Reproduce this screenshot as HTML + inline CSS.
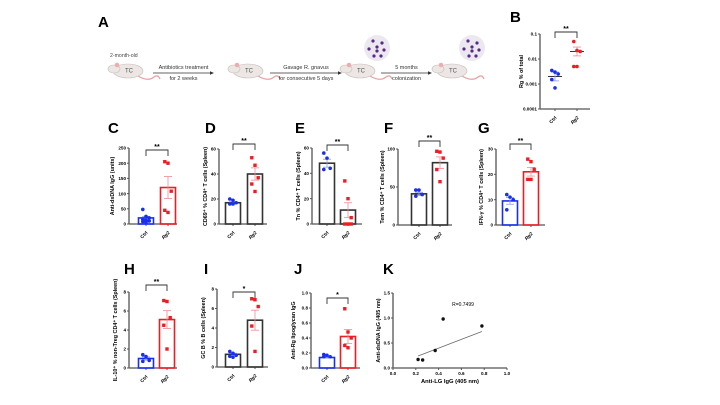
<!DOCTYPE html>
<html><head><meta charset="utf-8"><style>
body{margin:0;background:#fff}
svg{display:block;font-family:"Liberation Sans",Arial,sans-serif}
</style></head><body>
<svg id="fig" width="720" height="405" viewBox="0 0 720 405">
<g id="schematic"></g>
<g id="panels"></g>
</svg>
<script>
// ---- data ----
const groups = ["Ctrl","Rg2"];
const bCtrl = [0.0035,0.003,0.0025,0.0015,0.0007];
const bRg2 = [0.05,0.022,0.02,0.005,0.005];
const bMeans = [0.002,0.02];
const cCtrl = [48,25,20,15,12,10,8,5];
const cRg2 = [205,200,108,45,38];
const cMeans = [20,120];
const dCtrl = [20,19,17,16,16];
const dRg2 = [53,47,37,32,26];
const dMeans = [17,40];
const eCtrl = [56,52,44,43];
const eRg2 = [34,20,5,0,0,0];
const eMeans = [48,11];
const fCtrl = [46,46,40,38];
const fRg2 = [97,96,88,73,57];
const fMeans = [41,82];
const gCtrl = [12,11,10,6];
const gRg2 = [26,25,22,18,18];
const gMeans = [9.5,21];
const hCtrl = [1.4,1.2,0.8,0.7];
const hRg2 = [7.1,7.0,5.3,4.5,2.0];
const hMeans = [1.0,5.1];
const iCtrl = [1.6,1.4,1.2,1.1,1.0];
const iRg2 = [7.0,6.9,6.2,4.2,1.6];
const iMeans = [1.3,4.8];
const jCtrl = [0.18,0.17,0.15,0.15];
const jRg2 = [0.79,0.48,0.4,0.3,0.27];
const jMeans = [0.14,0.42];
const kX = [0.22,0.26,0.37,0.44,0.78];
const kY = [0.17,0.16,0.35,0.98,0.84];
const kFitX = [0.22,0.78];
const kFitY = [0.24,0.73];
const cTicks = [0,50,100,150,200,250];
const dTicks = [0,20,40,60];
const fTicks = [0,50,100];
const gTicks = [0,10,20,30];
const hTicks = [0,2,4,6,8];
const jTicks = [0,0.2,0.4,0.6,0.8,1.0];
const kYTicks = [0,0.5,1.0,1.5];
const kXTicks = [0,0.2,0.4,0.6,0.8,1.0];
const bTicks = [0.0001,0.001,0.01,0.1];

const NS="http://www.w3.org/2000/svg";
function el(tag,attrs,parent,txt){const e=document.createElementNS(NS,tag);for(const k in attrs)e.setAttribute(k,attrs[k]);if(txt!==undefined)e.textContent=txt;parent.appendChild(e);return e;}
const root=document.getElementById('panels');
const BLUE="#1a2ef0",RED="#ee1c24";
function sd(a){const m=a.reduce((s,v)=>s+v,0)/a.length;return Math.sqrt(a.reduce((s,v)=>s+(v-m)*(v-m),0)/(a.length-1))/Math.sqrt(a.length);}

function panel(c){
  const g=el('g',{},root);
  
  
  const lab=el('text',{x:c.lx,y:c.ly,'font-size':15,'font-weight':'bold'},g,c.id.toUpperCase());
  
  
  const y=v=>c.log? c.y0-(Math.log10(v)-Math.log10(c.ticks[0]))/(Math.log10(c.ticks[c.ticks.length-1])-Math.log10(c.ticks[0]))*(c.y0-c.y1)
                  : c.y0-(v-c.ticks[0])/(c.ticks[c.ticks.length-1]-c.ticks[0])*(c.y0-c.y1);
  const ax=el('g',{},g);
  
  
  el('line',{x1:c.ax,y1:c.y1,x2:c.ax,y2:c.y0,stroke:'#555','stroke-width':1.3},ax);
  el('line',{x1:c.ax,y1:c.y0,x2:c.xe,y2:c.y0,stroke:'#555','stroke-width':1.3},ax);
  c.ticks.forEach(t=>{el('line',{x1:c.ax-2,x2:c.ax,y1:y(t),y2:y(t),stroke:'#555','stroke-width':1},ax);
    el('text',{x:c.ax-3,y:y(t)+1.7,'font-size':4.6,'font-weight':'bold','text-anchor':'end'},ax,c.fmt?c.fmt(t):t);});
  const yt=el('text',{transform:`translate(${c.ax-(c.tw||14)},${(c.y0+c.y1)/2}) rotate(-90)`,'font-size':5.4,'font-weight':'bold','text-anchor':'middle'},g,c.title);
  
  
  const arrs=[c.ctrl,c.rg2];
  c.xs.forEach((cx,i)=>{
    const col=i?RED:BLUE;
    const lbl=el('text',{transform:`translate(${cx+2},${c.y0+9}) rotate(-45)`,'font-size':4.8,'font-weight':'bold','text-anchor':'end','font-style':i?'italic':'normal'},g,groups[i]);
    
    
    el('line',{x1:cx,x2:cx,y1:c.y0,y2:c.y0+2,stroke:'#555'},g);
    const m=c.means[i],e=sd(arrs[i]);
    if(!c.log){
      const bar=el('rect',{x:cx-7.5,y:y(m),width:15,height:c.y0-y(m),fill:'none',stroke:c.dark?'#333':col,'stroke-width':1.6},g);
      
      
    } else {
      const mk=el('line',{x1:cx-7,x2:cx+7,y1:y(m),y2:y(m),stroke:'#333','stroke-width':1},g);
      
      
    }
    const ec=i?'#f28a8f':'#8a9af5';
    const hi=c.log?m*1.5:m+e, lo=c.log?m/1.5:Math.max(c.ticks[0],m-e);
    el('line',{x1:cx,x2:cx,y1:y(hi),y2:y(lo),stroke:ec,'stroke-width':0.8},g);
    el('line',{x1:cx-4,x2:cx+4,y1:y(hi),y2:y(hi),stroke:ec,'stroke-width':0.8},g);
    el('line',{x1:cx-4,x2:cx+4,y1:y(lo),y2:y(lo),stroke:ec,'stroke-width':0.8},g);
    arrs[i].forEach((v,k)=>{
      const off=((k%3)-1)*3.2;
      const p=(i&&!c.log)? el('rect',{x:cx+off-1.7,y:y(v)-1.7,width:3.4,height:3.4,fill:RED},g)
               : el('circle',{cx:cx+off,cy:y(v),r:1.8,fill:col},g);
      
      
    });
  });
  const bk=el('path',{d:`M${c.xs[0]},${c.by+6}V${c.by}H${c.xs[1]}V${c.by+6}`,fill:'none',stroke:'#333','stroke-width':0.9},g);
  
  
  el('text',{x:(c.xs[0]+c.xs[1])/2,y:c.by-1,'font-size':7,'font-weight':'bold','text-anchor':'middle'},g,c.sig);
}

panel({id:'b',lx:510,ly:22,ax:540,y0:109,y1:34,xe:590,xs:[555,577],ticks:bTicks,log:true,ctrl:bCtrl,rg2:bRg2,means:bMeans,title:'Rg % of total',tw:17,by:32,sig:'**',fmt:t=>String(t)});
panel({id:'c',lx:108,ly:133,ax:129,y0:224,y1:148,xe:177,xs:[146,168],ticks:cTicks,ctrl:cCtrl,rg2:cRg2,means:cMeans,title:'Anti-dsDNA IgG (units)',tw:15,by:150,sig:'**'});
panel({id:'d',lx:205,ly:133,ax:219,y0:224,y1:149,xe:267,xs:[233,255],ticks:dTicks,ctrl:dCtrl,rg2:dRg2,means:dMeans,title:'CD69⁺ % CD4⁺ T cells (Spleen)',tw:12,by:144,sig:'**',dark:true});
panel({id:'e',lx:295,ly:133,ax:312,y0:224,y1:148,xe:362,xs:[327,348],ticks:dTicks,ctrl:eCtrl,rg2:eRg2,means:eMeans,title:'Tn % CD4⁺ T cells (Spleen)',tw:12,by:145,sig:'**',dark:true});
panel({id:'f',lx:384,ly:133,ax:398,y0:225,y1:149,xe:452,xs:[419,440],ticks:fTicks,ctrl:fCtrl,rg2:fRg2,means:fMeans,title:'Tem % CD4⁺ T cells (Spleen)',tw:14,by:141,sig:'**',dark:true});
panel({id:'g',lx:478,ly:133,ax:496,y0:225,y1:149,xe:545,xs:[510,531],ticks:gTicks,ctrl:gCtrl,rg2:gRg2,means:gMeans,title:'IFN-γ % CD4⁺ T cells (Spleen)',tw:13,by:144,sig:'**'});
panel({id:'h',lx:124,ly:274,ax:129,y0:368,y1:292,xe:177,xs:[146,167],ticks:hTicks,ctrl:hCtrl,rg2:hRg2,means:hMeans,title:'IL-10⁺ % non-Treg CD4⁺ T cells (Spleen)',tw:12,by:285,sig:'**'});
panel({id:'i',lx:204,ly:274,ax:217,y0:367,y1:289,xe:268,xs:[233,255],ticks:hTicks,ctrl:iCtrl,rg2:iRg2,means:iMeans,title:'GC B % B cells (Spleen)',tw:12,by:292,sig:'*',dark:true});
panel({id:'j',lx:294,ly:274,ax:311,y0:368,y1:293,xe:360,xs:[327,348],ticks:jTicks,ctrl:jCtrl,rg2:jRg2,means:jMeans,title:'Anti-Rg lipoglycan IgG',tw:16,by:298,sig:'*',fmt:t=>t.toFixed(1)});

// Panel K scatter
(function(){
  const g=el('g',{},root);
  
  
  const ax=393,y0=368,y1=293,xr=507;
  const sx=v=>ax+v*(xr-ax), sy=v=>y0-v/1.5*(y0-y1);
  el('text',{x:383,y:274,'font-size':15,'font-weight':'bold'},g,'K');
  el('line',{x1:ax,y1:y1,x2:ax,y2:y0,stroke:'#555','stroke-width':1.3},g);
  el('line',{x1:ax,y1:y0,x2:xr,y2:y0,stroke:'#555','stroke-width':1.3},g);
  kYTicks.forEach(t=>{el('line',{x1:ax-2,x2:ax,y1:sy(t),y2:sy(t),stroke:'#555'},g);el('text',{x:ax-3,y:sy(t)+1.7,'font-size':4.6,'font-weight':'bold','text-anchor':'end'},g,t.toFixed(1));});
  kXTicks.forEach(t=>{el('line',{x1:sx(t),x2:sx(t),y1:y0,y2:y0+2,stroke:'#555'},g);el('text',{x:sx(t),y:y0+7,'font-size':4.6,'font-weight':'bold','text-anchor':'middle'},g,t.toFixed(1));});
  const xt=el('text',{x:(ax+xr)/2,y:y0+15,'font-size':5.8,'font-weight':'bold','text-anchor':'middle'},g,'Anti-LG IgG (405 nm)');
  
  
  const yt=el('text',{transform:`translate(${ax-13},${(y0+y1)/2}) rotate(-90)`,'font-size':5.4,'font-weight':'bold','text-anchor':'middle'},g,'Anti-dsDNA IgG (405 nm)');
  
  
  const fl=el('line',{x1:sx(kFitX[0]),y1:sy(kFitY[0]),x2:sx(kFitX[1]),y2:sy(kFitY[1]),stroke:'#666','stroke-width':0.7},g);
  
  
  kX.forEach((v,i)=>{const p=el('circle',{cx:sx(v),cy:sy(kY[i]),r:1.7,fill:'#111'},g);
    
    });
  el('text',{x:463,y:306,'font-size':5,'text-anchor':'middle'},g,'R=0.7499');
})();

// Schematic A
(function(){
  const g=document.getElementById('schematic');
  el('text',{x:98,y:27,'font-size':15,'font-weight':'bold'},g,'A');
  el('text',{x:110,y:57,'font-size':5.2,fill:'#444'},g,'2-month-old');
  function mouse(x,y,name){
    const m=el('g',{},g);
    
    
    el('path',{d:`M${x+30},${y+14} q10,6 16,1 q4,-3 6,2`,fill:'none',stroke:'#e9a0a0','stroke-width':1.2},m);
    el('ellipse',{cx:x+20,cy:y+9,rx:15,ry:7,fill:'#ece6e4',stroke:'#c9bebb','stroke-width':0.6},m);
    el('ellipse',{cx:x+6,cy:y+7,rx:6,ry:4,fill:'#ece6e4',stroke:'#c9bebb','stroke-width':0.6},m);
    el('circle',{cx:x+9,cy:y+3,r:2.3,fill:'#eab0b0'},m);
    el('text',{x:x+17,y:y+10.5,'font-size':6,fill:'#555'},m,'TC');
    return m;
  }
  function arrow(x1,x2,y,t1,t2,name){
    const a=el('g',{},g);
    
    
    el('line',{x1:x1,x2:x2-3,y1:y,y2:y,stroke:'#333','stroke-width':0.7},a);
    el('path',{d:`M${x2},${y} l-4,-1.8 v3.6z`,fill:'#333'},a);
    el('text',{x:(x1+x2)/2,y:y-4,'font-size':5.5,'text-anchor':'middle',fill:'#333'},a,t1);
    el('text',{x:(x1+x2)/2,y:y+7,'font-size':5.5,'text-anchor':'middle',fill:'#333'},a,t2);
  }
  function bugs(cx,cy){
    el('circle',{cx:cx,cy:cy,r:13,fill:'#ece8f0'},g);
    [[-4,-7],[5,-5],[-8,1],[0,-1],[0,3],[7,2],[-3,8],[4,8]].forEach(p=>el('circle',{cx:cx+p[0],cy:cy+p[1],r:1.6,fill:'#5b2a86'},g));
  }
  mouse(108,62,'mouse-start');
  arrow(153,214,73,'Antibiotics treatment','for 2 weeks','arrow-antibiotics');
  mouse(228,62,'mouse-antibiotics');
  arrow(270,342,73,'Gavage R. gnavus','for consecutive 5 days','arrow-gavage');
  mouse(340,62,'mouse-gavaged');
  bugs(377,48);
  arrow(381,432,73,'5 months','colonization','arrow-colonization');
  mouse(432,62,'mouse-colonized');
  bugs(472,48);
})();
</script>
</body></html>
